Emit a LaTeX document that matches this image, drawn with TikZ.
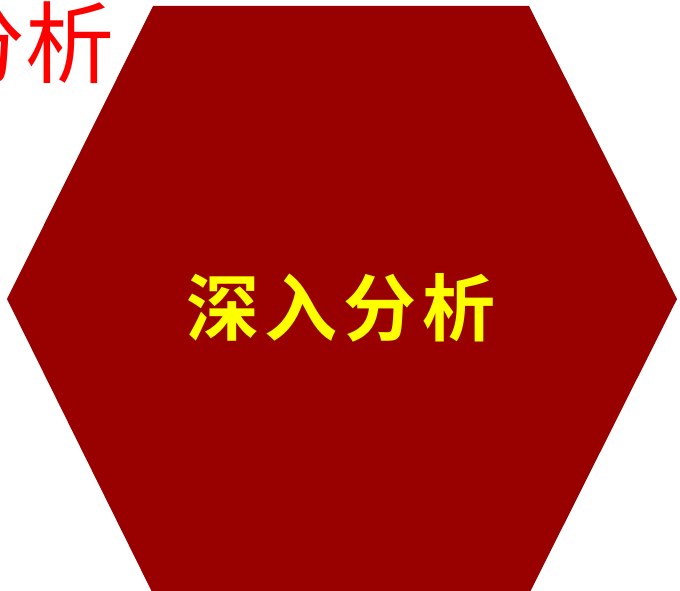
\documentclass[tikz,border=0pt]{standalone}
\usepackage{fontspec}
\newfontfamily\cjk{Noto Sans CJK SC}
\newfontfamily\cjkbold{Noto Sans CJK SC Bold}
\definecolor{hexred}{HTML}{990000}
\definecolor{hexyellow}{HTML}{FFFF00}
\definecolor{titlered}{HTML}{FF0000}
\begin{document}
\begin{tikzpicture}[x=1pt,y=-1pt,
  hexstyle/.style={fill=hexred,draw=none},
  hexlabel/.style={text=hexyellow,inner sep=0pt,font=\cjkbold\fontsize{73}{73}\selectfont},
  titletext/.style={text=titlered,inner sep=0pt,font=\cjk\fontsize{89}{89}\selectfont}]
\useasboundingbox (0,0) rectangle (680,591);
\clip (0,0) rectangle (680,591);
\fill[white] (0,0) rectangle (680,591);
\node[titletext,anchor=base west] (title) at (-64,77) {分析};
\coordinate (tl) at (153,6);
\coordinate (tr) at (529,6);
\coordinate (r) at (677,299);
\coordinate (br) at (529,594);
\coordinate (bl) at (153,594);
\coordinate (l) at (7,299);
\path[hexstyle] (tl) -- (tr) -- (r) -- (br) -- (bl) -- (l) -- cycle;
\node[hexlabel,anchor=base] (label) at (341,335) {深\hspace{6pt}入\hspace{6pt}分\hspace{6pt}析};
\end{tikzpicture}
\end{document}
